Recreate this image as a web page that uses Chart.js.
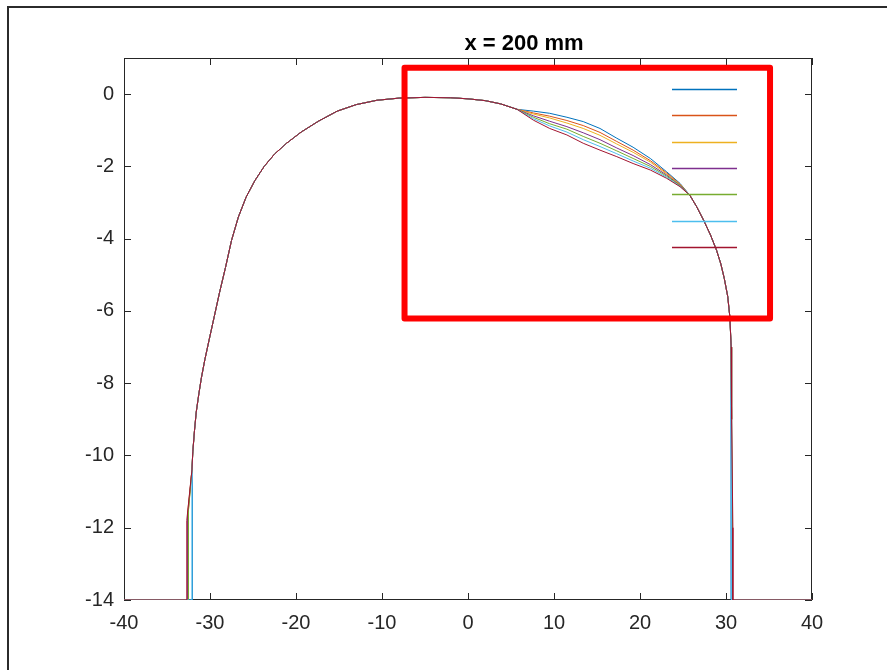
<!DOCTYPE html>
<html>
<head>
<meta charset="utf-8">
<title>x = 200 mm</title>
<script src="https://cdn.jsdelivr.net/npm/chart.js@4/dist/chart.umd.min.js"></script>
<style>
  html, body { margin: 0; padding: 0; background: #fff; }
  #wrap { width: 887px; height: 670px; position: relative; }
</style>
</head>
<body>
<div id="wrap"><canvas id="profileChart"></canvas></div>
<script>
// tick values
const xTicks = [-40, -30, -20, -10, 0, 10, 20, 30, 40];
const yTicks = [-14, -12, -10, -8, -6, -4, -2, 0];

// MATLAB default line colours, one per profile
const colors = ['#0072BD', '#D95319', '#EDB120', '#7E2F8E', '#77AC30', '#4DBEEE', '#A2142F'];

// left flank and crown, shared by all profiles
const arcX = [-32.1, -32.0, -31.8, -31.6, -31.3, -31.0, -30.6, -30.1, -29.5, -28.9, -28.2, -27.5, -26.7, -25.8, -24.8, -23.7, -22.5, -21.1, -19.4, -17.4, -15.2, -13.0, -10.6, -8.0, -5.0, -2.0, 0.0, 2.0, 3.8, 5.7];
const arcY = [-10.4, -9.9, -9.3, -8.8, -8.3, -7.85, -7.35, -6.8, -6.15, -5.5, -4.8, -4.05, -3.4, -2.85, -2.4, -2.0, -1.66, -1.36, -1.05, -0.75, -0.47, -0.29, -0.17, -0.11, -0.09, -0.10, -0.13, -0.18, -0.27, -0.42];

// right shoulder where the profiles fan out
const midX = [7.6, 9.5, 11.5, 13.4, 15.35, 17.3, 19.2, 21.2, 23.1, 24.65];
const midY = [
  [-0.47, -0.53, -0.64, -0.76, -0.95, -1.22, -1.47, -1.78, -2.15, -2.47],
  [-0.52, -0.61, -0.73, -0.87, -1.06, -1.31, -1.55, -1.84, -2.18, -2.49],
  [-0.55, -0.66, -0.80, -0.95, -1.14, -1.38, -1.61, -1.88, -2.21, -2.50],
  [-0.60, -0.75, -0.90, -1.07, -1.26, -1.49, -1.70, -1.95, -2.24, -2.52],
  [-0.64, -0.82, -0.97, -1.17, -1.36, -1.57, -1.78, -2.00, -2.27, -2.53],
  [-0.68, -0.88, -1.05, -1.26, -1.45, -1.65, -1.85, -2.05, -2.30, -2.55],
  [-0.72, -0.95, -1.13, -1.36, -1.55, -1.73, -1.92, -2.10, -2.33, -2.56]
];

// right flank, shared
const wallX = [25.8, 26.6, 27.4, 28.2, 28.9, 29.4, 29.8, 30.2, 30.45, 30.6, 30.65];
const wallY = [-2.8, -3.12, -3.49, -3.9, -4.32, -4.7, -5.1, -5.6, -6.17, -7.0, -9.0];

// vertical edges at the bottom of each profile
const leftFoot = [-32.05, -32.6, -32.5, -32.6, -32.5, -32.1, -32.7];
const leftFootTop = [-10.9, -11.6, -11.5, -11.7, -11.5, -11.0, -11.8];
const rightFoot = [30.6, 30.75, 30.7, 30.7, 30.72, 30.65, 30.8];

function buildProfile(i) {
    const pts = [{x: -40, y: -14}, {x: leftFoot[i], y: -14}, {x: leftFoot[i], y: leftFootTop[i]}];
    arcX.forEach((x, k) => pts.push({x: x, y: arcY[k]}));
    midX.forEach((x, k) => pts.push({x: x, y: midY[i][k]}));
    wallX.forEach((x, k) => pts.push({x: x, y: wallY[k]}));
    pts.push({x: rightFoot[i], y: -12}, {x: rightFoot[i], y: -14}, {x: 40, y: -14});
    return pts;
}

const datasets = colors.map((c, i) => ({
    data: buildProfile(i),
    borderColor: c,
    borderWidth: 1,
    pointRadius: 0,
    showLine: true,
    fill: false,
    tension: 0,
    order: colors.length - i // last profile on top, like plot()
}));

const axisColor = '#262626';

// figure frame, axes box with inward ticks, legend lines, highlight box and title
const matlabLook = {
    id: 'matlabLook',
    beforeDraw(chart) {
        const c = chart.ctx;
        c.save();
        c.fillStyle = '#fff';
        c.fillRect(0, 0, chart.width, chart.height);
        c.strokeStyle = '#2b2b2b';
        c.lineWidth = 2;
        c.beginPath();
        c.moveTo(chart.width, 7);
        c.lineTo(8, 7);
        c.lineTo(8, chart.height);
        c.stroke();
        c.restore();
    },
    beforeDatasetsDraw(chart) {
        const c = chart.ctx;
        const a = chart.chartArea;
        const xs = chart.scales.x, ys = chart.scales.y;
        const len = 7;
        c.save();
        c.strokeStyle = axisColor;
        c.lineWidth = 1;
        c.strokeRect(a.left + 0.5, a.top + 0.5, a.right - a.left - 1, a.bottom - a.top - 1);
        c.beginPath();
        xTicks.forEach(v => {
            const px = Math.round(xs.getPixelForValue(v)) + 0.5;
            c.moveTo(px, a.bottom); c.lineTo(px, a.bottom - len);
            c.moveTo(px, a.top); c.lineTo(px, a.top + len);
        });
        yTicks.forEach(v => {
            const py = Math.round(ys.getPixelForValue(v)) + 0.5;
            c.moveTo(a.left, py); c.lineTo(a.left + len, py);
            c.moveTo(a.right, py); c.lineTo(a.right - len, py);
        });
        c.stroke();
        c.restore();
    },
    afterDatasetsDraw(chart) {
        const c = chart.ctx;
        const xs = chart.scales.x, ys = chart.scales.y;
        c.save();
        // legend samples (no labels)
        c.lineWidth = 1.3;
        colors.forEach((col, i) => {
            const y = Math.round(89 + i * 26.3) + 0.5;
            c.strokeStyle = col;
            c.beginPath();
            c.moveTo(672, y);
            c.lineTo(737, y);
            c.stroke();
        });
        // red highlight rectangle
        const x0 = xs.getPixelForValue(-7.38), x1 = xs.getPixelForValue(35.12);
        const y0 = ys.getPixelForValue(0.73), y1 = ys.getPixelForValue(-6.21);
        c.strokeStyle = '#ff0000';
        c.lineWidth = 6;
        c.lineJoin = 'round';
        c.strokeRect(x0, y0, x1 - x0, y1 - y0);
        c.restore();
    },
    afterDraw(chart) {
        const c = chart.ctx;
        c.save();
        c.fillStyle = '#000';
        c.font = 'bold 22px "Liberation Sans", Arial, sans-serif';
        c.textAlign = 'center';
        c.textBaseline = 'alphabetic';
        c.fillText('x = 200 mm', 524, 49.5);
        c.restore();
    }
};

const ctx = document.getElementById('profileChart').getContext('2d');
const profileChart = new Chart(ctx, {
    type: 'scatter',
    data: { datasets: datasets },
    options: {
        responsive: true,
        maintainAspectRatio: false,
        animation: false,
        events: [],
        layout: {
            padding: { top: 58, right: 75, bottom: 0, left: 0 }
        },
        plugins: {
            legend: { display: false },
            title: { display: false },
            tooltip: { enabled: false }
        },
        scales: {
            x: {
                type: 'linear',
                min: -40,
                max: 40,
                afterBuildTicks: (scale) => { scale.ticks = xTicks.map(v => ({value: v})); },
                afterFit: (scale) => { scale.height = 70; },
                grid: { display: false },
                border: { display: false },
                ticks: {
                    autoSkip: false,
                    maxRotation: 0,
                    padding: 3,
                    color: axisColor,
                    font: { family: '"Liberation Sans", Arial, sans-serif', size: 20 }
                }
            },
            y: {
                type: 'linear',
                min: -14,
                max: 1,
                afterBuildTicks: (scale) => { scale.ticks = yTicks.map(v => ({value: v})); },
                afterFit: (scale) => { scale.width = 124; },
                grid: { display: false },
                border: { display: false },
                ticks: {
                    autoSkip: false,
                    padding: 2,
                    color: axisColor,
                    font: { family: '"Liberation Sans", Arial, sans-serif', size: 20 }
                }
            }
        }
    },
    plugins: [matlabLook]
});
</script>
</body>
</html>
